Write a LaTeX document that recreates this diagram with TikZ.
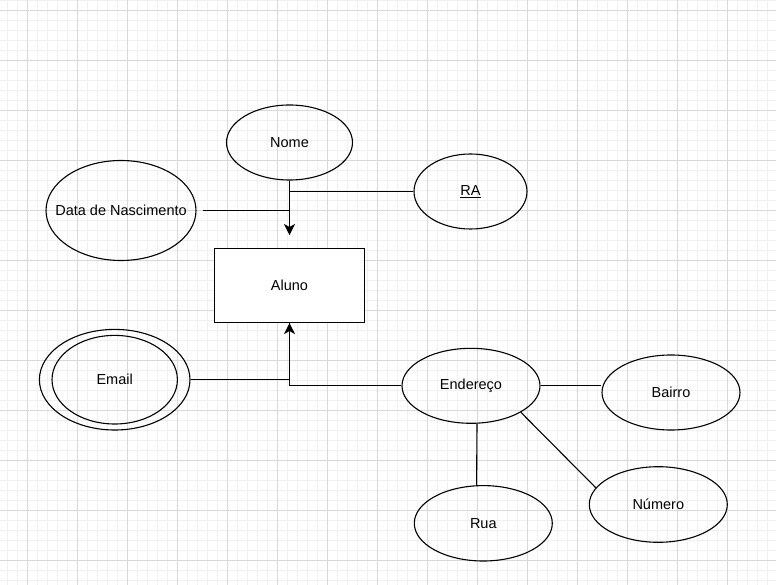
\documentclass[tikz,border=0pt]{standalone}
\usepackage{fontspec}
\setmainfont{Liberation Sans}
\usetikzlibrary{shapes.geometric,arrows.meta}

\begin{document}
\begin{tikzpicture}[x=1pt, y=-1pt,
  attr/.style={ellipse, draw, line width=1.1pt, inner sep=0pt, minimum width=138pt, minimum height=75pt},
  link/.style={line width=1.1pt},
  tip/.style={-{Stealth[length=11pt, width=11pt, inset=3pt]}},
  minor/.style={draw=gray!12, line width=1pt},
  major/.style={draw=gray!30, line width=1pt},
  every label/.style={font=\fontsize{14.5}{17}\selectfont}]
\path[use as bounding box, fill=white] (0,0) rectangle (776,585);
\foreach \x in {7.5,17.5,...,767.5} \draw[minor] (\x,0) -- (\x,585);
\foreach \y in {0.5,10.5,...,580.5} \draw[minor] (0,\y) -- (776,\y);
\foreach \x in {27.5,77.5,...,727.5} \draw[major] (\x,0) -- (\x,585);
\foreach \y in {10.5,60.5,...,560.5} \draw[major] (0,\y) -- (776,\y);

\node[attr, minimum width=126pt, label=center:Nome] (Nome) at (289.5,142.5) {};
\node[attr, minimum width=113pt, label=center:\underline{RA}] (RA) at (470.5,191.5) {};
\node[attr, minimum width=150pt, minimum height=100pt, label=center:Data de Nascimento] (Data) at (121,210.5) {};
\node[draw, link, fill=white, minimum width=150pt, minimum height=74pt, font=\fontsize{14.5}{17}\selectfont] (Aluno) at (289.5,285.5) {Aluno};
\node[attr, minimum width=150.6pt, minimum height=100.6pt, label=center:Email] (Email) at (114.7,379.7) {};
\draw[link] (Email.center) ellipse [x radius=62.7pt, y radius=44.3pt];
\node[attr, label=center:Endereço] (Endereco) at (471,385.8) {};
\node[attr, label=center:Bairro] (Bairro) at (671,392.5) {};
\node[attr, minimum height=75.4pt, label=center:Rua] (Rua) at (483.3,523.3) {};
\node[attr, minimum height=75.6pt, label=center:Número] (Numero) at (658.3,504.5) {};

\coordinate (top) at (289.5,235);
\draw[link, tip] (Nome) -- (top);
\draw[link] (RA) -| (top);
\draw[link, shorten <=6pt] (Data) -| (top);
\draw[link, tip] (Email) -| (Aluno.south);
\draw[link] (Endereco) -| (Aluno.south);
\draw[link] (Endereco.east) -- (Endereco.east -| Bairro.west);
\draw[link] (Endereco.-81) -- (Rua.100);
\draw[link] (Endereco.-28) -- (Numero.165);

\end{tikzpicture}
\end{document}
